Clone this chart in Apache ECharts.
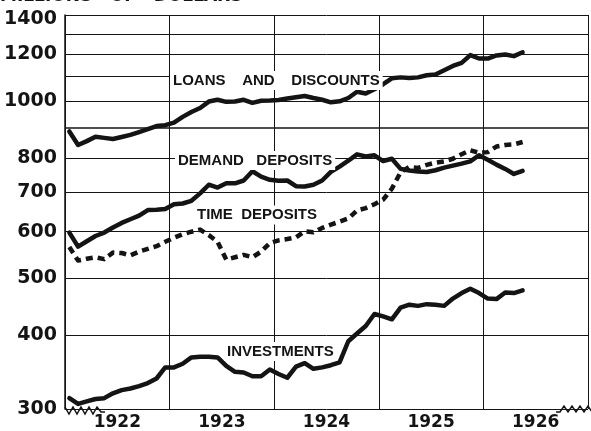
<!DOCTYPE html>
<html>
<head>
<meta charset="utf-8">
<script src="https://cdn.jsdelivr.net/npm/echarts@6/dist/echarts.min.js"></script>
<style>
  html, body { margin: 0; padding: 0; background: #fff; }
  #chart { width: 591px; height: 431px; }
</style>
</head>
<body>
<div id="chart"></div>
<script>
// monthly figures, Jan 1922 .. May 1926 (millions of dollars)
const loans = [888, 842, 855, 870, 866, 862, 869, 876, 886, 896, 907, 910,
  919, 940, 958, 973, 998, 1005, 997, 998, 1005, 993, 1001, 1002,
  1004, 1010, 1015, 1020, 1012, 1005, 995, 999, 1012, 1037, 1030, 1047,
  1068, 1093, 1097, 1094, 1097, 1106, 1109, 1128, 1147, 1161, 1197, 1181,
  1181, 1195, 1200, 1192, 1210]
const demand = [598, 566, 578, 590, 598, 610, 621, 630, 639, 653, 654, 656,
  668, 670, 677, 697, 721, 713, 725, 725, 733, 760, 744, 735,
  732, 733, 717, 716, 721, 733, 758, 774, 792, 812, 805, 809,
  791, 798, 767, 762, 759, 758, 763, 771, 777, 783, 790, 809,
  795, 780, 767, 752, 761]
const timeDep = [565, 536, 540, 543, 539, 553, 552, 547, 555, 561, 567, 577,
  586, 594, 600, 605, 592, 577, 538, 543, 548, 543, 555, 574,
  580, 583, 587, 601, 599, 609, 617, 624, 632, 652, 658, 668,
  680, 710, 757, 773, 770, 779, 786, 790, 798, 812, 825, 817,
  819, 837, 842, 844, 852]
const investments = [313, 306, 309, 312, 313, 319, 323, 325, 328, 332, 338, 353,
  353, 358, 367, 368, 368, 367, 355, 347, 346, 341, 341, 350,
  344, 339, 354, 359, 351, 353, 356, 360, 391, 403, 415, 435,
  431, 426, 446, 451, 449, 452, 451, 449, 462, 472, 480, 472,
  462, 461, 473, 472, 477]

const years = ['1922', '1923', '1924', '1925', '1926']
const gridValues = [300, 400, 500, 600, 700, 800, 900, 1000, 1100, 1200, 1300, 1400]
const labeledValues = [300, 400, 500, 600, 700, 800, 1000, 1200, 1400]

const INK = '#141414'
const toPoints = arr => arr.map((v, i) => [i + 0.5, v])

const chart = echarts.init(document.getElementById('chart'))

const lineSeries = (name, data, dashed) => ({
  name,
  type: 'line',
  data: toPoints(data),
  showSymbol: false,
  symbol: 'none',
  z: 4,
  lineStyle: {
    color: INK,
    width: 4.5,
    type: dashed ? [7, 5] : 'solid',
    join: 'round',
    cap: dashed ? 'butt' : 'round'
  },
  animation: false
})

const labelFont = {
  fontFamily: 'Liberation Sans',
  fontWeight: 'bold',
  fontSize: 15,
  fill: INK,
  backgroundColor: '#fff',
  padding: [2, 3]
}

chart.setOption({
  backgroundColor: '#fff',
  animation: false,
  grid: { left: 65, right: -3, top: 15, bottom: 19 },
  xAxis: [{
    type: 'value',
    position: 'bottom',
    min: 0,
    max: 60,
    interval: 12,
    axisLine: { show: false },
    axisTick: { show: false },
    axisLabel: { show: false },
    splitLine: { show: true, lineStyle: { color: INK, width: 1 } }
  }, {
    type: 'value',
    position: 'bottom',
    min: 0,
    max: 60,
    interval: 6,
    axisLine: { show: false },
    axisTick: { show: false },
    splitLine: { show: false },
    axisLabel: {
      show: true,
      margin: 5,
      color: INK,
      fontFamily: 'DejaVu Sans',
      fontWeight: 'bold',
      fontSize: 17,
      formatter: v => (v % 12 === 6 ? years[(v - 6) / 12] : '')
    }
  }],
  yAxis: {
    type: 'log',
    min: 300,
    max: 1400,
    axisLine: { show: true, lineStyle: { color: INK, width: 1.5 } },
    axisTick: { show: false },
    axisLabel: { show: false },
    splitLine: { show: false }
  },
  series: [{
    type: 'line',
    data: [[0, 300]],
    symbol: 'none',
    lineStyle: { opacity: 0 },
    z: 1,
    silent: true,
    markLine: {
      silent: true,
      symbol: 'none',
      animation: false,
      lineStyle: { color: INK, width: 1, type: 'solid' },
      label: {
        position: 'start',
        distance: 8,
        color: INK,
        fontFamily: 'DejaVu Sans',
        fontWeight: 'bold',
        fontSize: 19,
        formatter: p => String(p.value)
      },
      data: gridValues.map(v => ({
        yAxis: v,
        label: { show: labeledValues.indexOf(v) >= 0, offset: v === 1400 ? [0, 4] : [0, 0] },
        lineStyle: { width: v === 900 ? 1.6 : 1 }
      }))
    }
  },
  lineSeries('Loans and discounts', loans),
  lineSeries('Demand deposits', demand),
  lineSeries('Time deposits', timeDep, true),
  lineSeries('Investments', investments)],
  graphic: [
    { type: 'text', left: 0, top: -12, z: 10,
      style: { text: 'MILLIONS   OF   DOLLARS', fontFamily: 'DejaVu Sans', fontWeight: 'bold', fontSize: 17, fill: INK } },
    { type: 'text', x: 170, y: 80.5, z: 10,
      style: Object.assign({ text: 'LOANS    AND    DISCOUNTS', verticalAlign: 'middle' }, labelFont) },
    { type: 'text', x: 175, y: 160.5, z: 10,
      style: Object.assign({ text: 'DEMAND   DEPOSITS', verticalAlign: 'middle' }, labelFont) },
    { type: 'text', x: 194, y: 215, z: 10,
      style: Object.assign({ text: 'TIME  DEPOSITS', verticalAlign: 'middle' }, labelFont) },
    { type: 'text', x: 224, y: 351.5, z: 10,
      style: Object.assign({ text: 'INVESTMENTS', verticalAlign: 'middle' }, labelFont) },
    { type: 'polyline', z: 10,
      shape: { points: [[65, 407], [69, 414], [73, 407], [77, 414], [81, 407], [85, 414], [89, 407], [93, 414], [97, 407], [101, 412], [105, 412]] },
      style: { stroke: INK, lineWidth: 1.5, fill: null } },
    { type: 'polyline', z: 10,
      shape: { points: [[556, 412], [560, 412], [564, 406], [568, 412], [572, 406], [576, 412], [580, 406], [584, 412], [588, 406], [592, 412]] },
      style: { stroke: INK, lineWidth: 1.5, fill: null } }
  ]
})
</script>
</body>
</html>
